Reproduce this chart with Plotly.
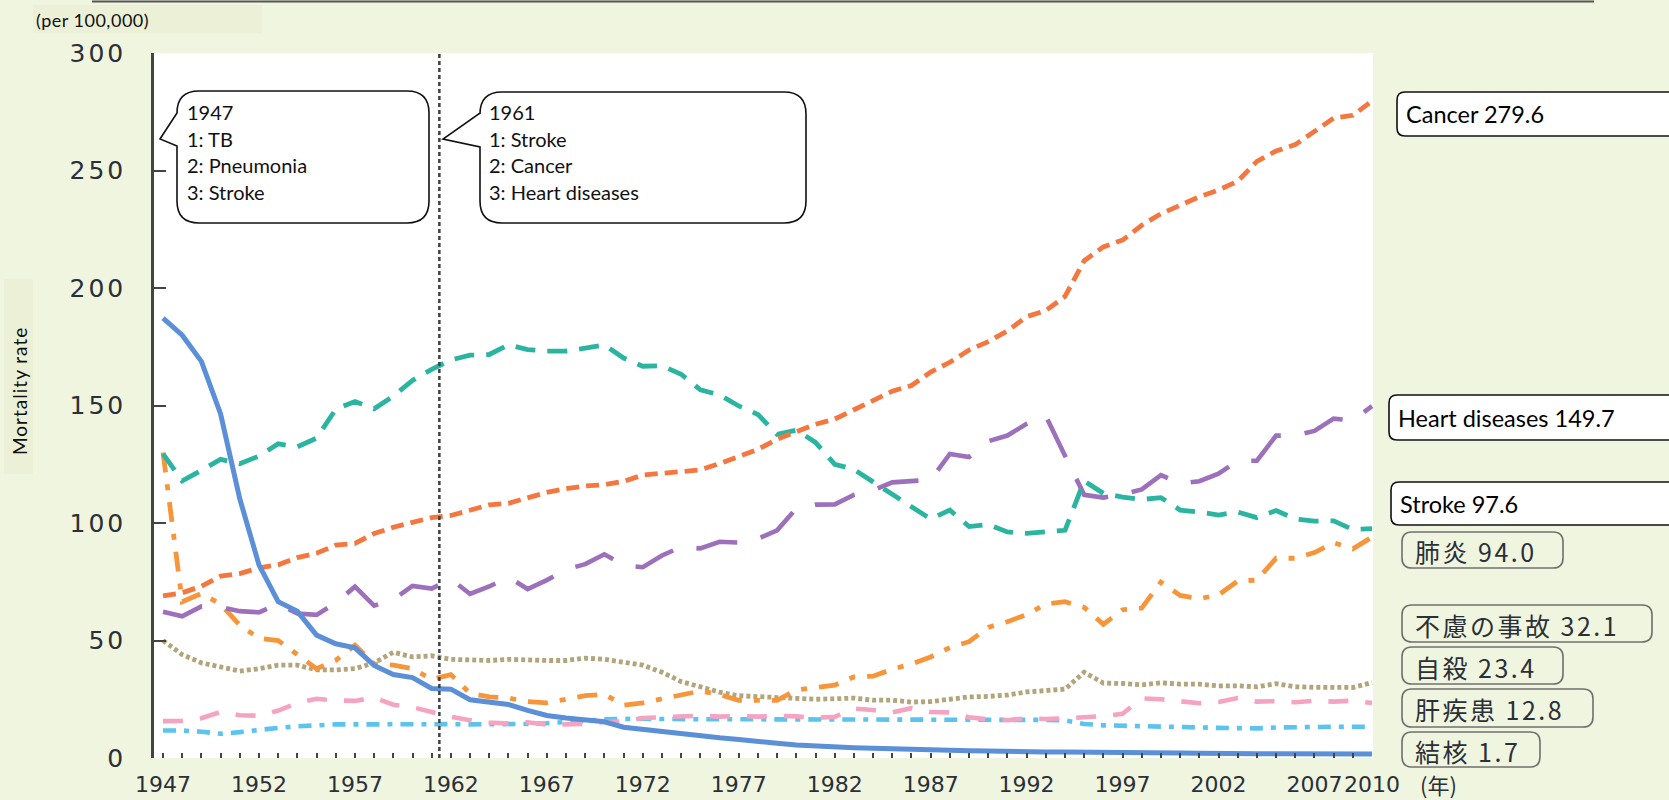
import plotly.graph_objects as go

# ---------------- data ----------------
years = list(range(1947, 2011))

tb = [187.2, 179.9, 168.8, 146.4, 110.3, 82.2, 66.5, 62.4, 52.3, 48.6,
      46.9, 39.4, 35.5, 34.2, 29.6, 29.3, 24.8, 23.6, 22.8, 20.3,
      18.1, 17.0, 16.0, 15.4, 13.1, 12.1, 11.4, 10.5, 9.5, 8.6,
      7.9, 7.3, 6.3, 5.5, 5.0, 4.6, 4.4, 4.2, 3.9, 3.7,
      3.4, 3.2, 3.1, 3.0, 2.7, 2.8, 2.6, 2.6, 2.6, 2.3,
      2.2, 2.2, 2.3, 2.1, 2.0, 1.8, 1.9, 1.8, 1.8, 1.8,
      1.7, 1.8, 1.7, 1.7]

pneumonia = [130.0, 66.5, 70.0, 65.5, 56.5, 51.0, 50.0, 44.0, 38.0, 41.5,
             48.0, 40.0, 39.5, 38.0, 33.5, 35.5, 27.5, 26.0, 25.5, 24.0,
             23.5, 25.0, 26.5, 27.1, 22.5, 23.5, 25.0, 26.5, 28.5, 27.0,
             24.5, 24.5, 24.5, 29.0, 29.8, 31.0, 34.5, 34.8, 37.8, 40.0,
             43.0, 47.0, 49.5, 55.6, 58.0, 61.0, 65.5, 66.5, 64.1, 56.9,
             63.1, 63.8, 74.9, 69.2, 67.8, 69.4, 75.3, 75.7, 85.0, 85.0,
             87.4, 91.6, 89.0, 94.0]

cancer = [69.0, 70.3, 73.1, 77.4, 78.5, 80.9, 82.2, 85.3, 87.1, 90.6,
          91.3, 95.5, 98.2, 100.4, 102.3, 103.2, 105.5, 107.7, 108.4, 110.8,
          113.0, 114.6, 115.8, 116.3, 117.7, 120.4, 121.2, 122.2, 122.6, 125.3,
          128.4, 131.3, 135.7, 139.1, 142.0, 144.2, 148.3, 152.5, 156.1, 158.5,
          164.2, 168.4, 173.6, 177.2, 181.7, 187.8, 190.4, 196.4, 211.6, 217.5,
          220.4, 226.7, 231.6, 235.2, 238.8, 241.7, 245.4, 253.9, 258.3, 261.0,
          266.9, 272.3, 273.5, 279.6]

heart = [62.2, 60.3, 64.5, 64.2, 62.5, 62.0, 65.6, 61.5, 60.9, 66.0,
         72.9, 64.8, 67.5, 73.2, 72.1, 76.2, 69.8, 73.0, 77.0, 71.9,
         75.7, 80.2, 82.5, 86.7, 82.0, 81.2, 86.2, 89.8, 89.2, 92.0,
         91.7, 93.3, 96.9, 106.2, 107.8, 107.9, 111.9, 113.9, 117.3, 117.9,
         118.4, 129.4, 128.1, 134.8, 137.2, 142.2, 145.6, 128.6, 112.0, 110.8,
         112.2, 114.3, 120.4, 116.8, 117.8, 121.0, 126.5, 126.5, 137.2, 137.2,
         139.2, 144.4, 143.7, 149.7]

stroke = [129.4, 117.9, 122.4, 127.1, 125.2, 128.5, 133.7, 132.4, 136.1, 148.4,
          151.7, 148.6, 154.0, 160.7, 165.4, 169.4, 171.4, 171.7, 175.8, 173.8,
          173.1, 173.2, 174.4, 175.8, 170.2, 166.7, 166.9, 163.3, 156.7, 154.5,
          149.8, 146.2, 137.7, 139.5, 134.3, 125.0, 122.8, 117.2, 112.2, 106.9,
          101.7, 105.5, 98.5, 99.4, 96.2, 95.6, 96.0, 96.9, 117.9, 112.6,
          111.0, 110.0, 110.8, 105.5, 104.7, 103.4, 104.7, 102.3, 105.3, 101.7,
          100.8, 100.9, 97.2, 97.6]

accidents = [50.0, 44.0, 40.5, 38.5, 37.0, 38.0, 39.5, 39.5, 37.5, 37.5,
             38.0, 40.5, 45.0, 43.0, 43.5, 42.0, 41.5, 41.5, 42.0, 41.5,
             41.5, 41.5, 42.5, 42.0, 41.0, 39.5, 36.5, 32.5, 30.3, 28.0,
             26.5, 26.0, 25.5, 25.1, 25.0, 25.2, 25.5, 24.6, 24.6, 23.8,
             24.0, 25.0, 26.0, 26.2, 26.8, 28.1, 28.6, 29.3, 36.5, 31.9,
             31.7, 31.1, 32.0, 31.4, 31.4, 30.7, 30.7, 30.3, 31.6, 30.3,
             30.1, 30.3, 30.0, 32.1]

suicide = [15.7, 15.8, 16.9, 19.6, 18.2, 18.0, 20.2, 23.4, 25.2, 24.5,
           24.3, 25.7, 22.7, 21.6, 19.6, 17.5, 16.1, 15.1, 14.7, 15.2,
           14.2, 14.5, 14.5, 15.3, 15.6, 17.0, 17.4, 17.5, 18.0, 17.6,
           17.9, 17.6, 18.0, 17.7, 17.1, 17.5, 21.0, 20.4, 19.4, 21.2,
           19.6, 19.4, 17.3, 16.4, 16.1, 16.9, 16.6, 16.9, 17.2, 17.8,
           18.8, 25.4, 25.0, 24.1, 23.3, 23.8, 25.5, 24.0, 24.2, 23.7,
           24.4, 24.0, 24.4, 23.4]

liver = [11.7, 11.7, 11.2, 10.3, 11.0, 12.0, 12.8, 13.5, 14.0, 14.3,
         14.3, 14.4, 14.5, 14.5, 14.5, 14.4, 14.3, 14.3, 14.4, 14.5,
         14.8, 15.2, 15.8, 16.5, 16.7, 16.7, 16.6, 16.4, 16.5, 16.5,
         16.5, 16.5, 16.5, 16.5, 16.4, 16.4, 16.3, 16.2, 16.2, 16.4,
         16.5, 16.5, 16.4, 16.4, 16.3, 16.2, 16.2, 16.0, 14.5, 13.9,
         13.8, 13.6, 13.4, 13.3, 13.0, 12.8, 12.6, 12.6, 13.0, 13.2,
         13.3, 13.3, 13.3, 13.3]

x_tick_years = [1947, 1952, 1957, 1962, 1967, 1972, 1977, 1982, 1987, 1992, 1997, 2002, 2007, 2010]
y_ticks = [0, 50, 100, 150, 200, 250, 300]

bubble1_lines = ["1947", "1: TB", "2: Pneumonia", "3: Stroke"]
bubble2_lines = ["1961", "1: Stroke", "2: Cancer", "3: Heart diseases"]
marker_year = 1961.4

end_labels_en = [("Cancer 279.6", 92, 136, 1397), ("Heart diseases 149.7", 395, 440, 1389),
                 ("Stroke 97.6", 482, 525, 1391)]
end_labels_ja = [("肺炎 94.0", 532, 568, 1563), ("不慮の事故 32.1", 605, 642, 1652),
                 ("自殺 23.4", 647, 684, 1563), ("肝疾患 12.8", 689, 727, 1593),
                 ("結核 1.7", 732, 767, 1540)]

for s in (tb, pneumonia, cancer, heart, stroke, accidents, suicide, liver):
    assert len(s) == len(years)

# ---------------- layout helpers (page pixels -> paper) ----------------
W, H = 1669, 800
L, R, T, B = 154, 1373, 53, 758
BG = "#F0F5E0"


def px(x):
    return (x - L) / (R - L)


def py(y):
    return (B - y) / (B - T)


def P(x, y):
    return f"{px(x):.5f},{py(y):.5f}"


def rrect(x0, y0, x1, y1, r, pointer=None):
    s = (f"M {P(x0 + r, y0)} L {P(x1 - r, y0)} Q {P(x1, y0)} {P(x1, y0 + r)} "
         f"L {P(x1, y1 - r)} Q {P(x1, y1)} {P(x1 - r, y1)} "
         f"L {P(x0 + r, y1)} Q {P(x0, y1)} {P(x0, y1 - r)} ")
    if pointer:
        top, tipx, tipy, bot = pointer
        s += f"L {P(x0, bot)} L {P(tipx, tipy)} L {P(x0, top)} "
    s += f"L {P(x0, y0 + r)} Q {P(x0, y0)} {P(x0 + r, y0)} Z"
    return s


fig = go.Figure()

series = [
    (liver, "#5CC3EE", "13px,8px,5px,8px", 4.6),
    (suicide, "#F4A3C1", "20px,17px", 4.6),
    (accidents, "#B2A57C", "4px,3px", 4.8),
    (pneumonia, "#F7953B", "20px,12px,6px,12px", 4.8),
    (heart, "#9D70BB", "42px,24px", 4.6),
    (stroke, "#2BB5A1", "20px,12px", 4.8),
    (cancer, "#F3773F", "13px,7px", 4.8),
    (tb, "#5B8FD8", "solid", 5),
]
for vals, col, dash, w in series:
    fig.add_trace(go.Scatter(x=years, y=vals, mode="lines",
                             line=dict(color=col, width=w, dash=dash),
                             hoverinfo="skip", showlegend=False))

shapes = []
# top rule
shapes.append(dict(type="line", xref="paper", yref="paper", x0=px(92), x1=px(1594), y0=py(1.5), y1=py(1.5),
                   line=dict(color="#555555", width=2)))
# label background panels
shapes.append(dict(type="rect", xref="paper", yref="paper", x0=px(33), x1=px(262), y0=py(33), y1=py(5),
                   fillcolor="#EBF0D7", line=dict(width=0), layer="below"))
shapes.append(dict(type="rect", xref="paper", yref="paper", x0=px(4), x1=px(33), y0=py(474), y1=py(279),
                   fillcolor="#EBF0D7", line=dict(width=0), layer="below"))
# vertical dashed marker
shapes.append(dict(type="line", xref="x", yref="paper", x0=marker_year, x1=marker_year, y0=0, y1=1,
                   line=dict(color="#404040", width=2.5, dash="4px,3px")))
# callout bubbles
shapes.append(dict(type="path", xref="paper", yref="paper",
                   path=rrect(177, 91, 429, 223, 22, pointer=(113, 160, 139, 146)),
                   fillcolor="white", line=dict(color="#111111", width=1.6)))
shapes.append(dict(type="path", xref="paper", yref="paper",
                   path=rrect(480, 92, 806, 223, 22, pointer=(113, 443, 139, 147)),
                   fillcolor="white", line=dict(color="#111111", width=1.6)))
# end labels (english, white boxes)
for txt, y0, y1, x0 in end_labels_en:
    shapes.append(dict(type="path", xref="paper", yref="paper",
                       path=rrect(x0, y0, 1690, y1, 8),
                       fillcolor="white", line=dict(color="#111111", width=1.6)))
# end labels (japanese, grey rounded)
for txt, y0, y1, x1 in end_labels_ja:
    shapes.append(dict(type="path", xref="paper", yref="paper",
                       path=rrect(1402, y0, x1, y1, 10),
                       fillcolor="rgba(0,0,0,0)", line=dict(color="#707070", width=1.6)))

annotations = []
annotations.append(dict(xref="paper", yref="paper", x=px(34), y=py(20), xanchor="left", yanchor="middle",
                        text='<span style="letter-spacing:0.5px">(per 100,000)</span>', showarrow=False,
                        font=dict(family="Lato", size=18, color="#111111")))
annotations.append(dict(xref="paper", yref="paper", x=px(19), y=py(391), xanchor="center", yanchor="middle",
                        text='<span style="letter-spacing:1px">Mortality rate</span>', showarrow=False,
                        textangle=-90, font=dict(family="Lato", size=19, color="#111111")))
for lines, x0 in ((bubble1_lines, 185), (bubble2_lines, 487)):
    for i, t in enumerate(lines):
        annotations.append(dict(xref="paper", yref="paper", x=px(x0), y=py(112 + 26.5 * i),
                                xanchor="left", yanchor="middle", text=t, showarrow=False,
                                font=dict(family="Lato", size=20, color="#111111")))
for txt, y0, y1, x0 in end_labels_en:
    annotations.append(dict(xref="paper", yref="paper", x=px(x0 + 7), y=py((y0 + y1) / 2),
                            xanchor="left", yanchor="middle", text=txt, showarrow=False,
                            font=dict(family="Lato", size=23.5, color="#000000")))
for txt, y0, y1, x1 in end_labels_ja:
    annotations.append(dict(xref="paper", yref="paper", x=px(1413), y=py((y0 + y1) / 2 + 1),
                            xanchor="left", yanchor="middle",
                            text=f'<span style="letter-spacing:2.5px">{txt}</span>', showarrow=False,
                            font=dict(family="Noto Sans CJK JP", size=25, color="#2A2F38")))
annotations.append(dict(xref="paper", yref="paper", x=px(1438), y=py(784), xanchor="center", yanchor="middle",
                        text="(年)", showarrow=False,
                        font=dict(family="Noto Sans CJK JP", size=22, color="#2A2F38")))

fig.update_layout(
    width=W, height=H,
    margin=dict(l=L, r=W - R, t=T, b=H - B, pad=0, autoexpand=False),
    paper_bgcolor=BG, plot_bgcolor="white",
    showlegend=False,
    shapes=shapes, annotations=annotations,
    xaxis=dict(range=[1946.53, 2010.05], tickmode="array", tickvals=x_tick_years,
               ticktext=[str(y) for y in x_tick_years],
               tickangle=0, automargin=False,
               ticks="inside", ticklen=5, tickwidth=1.5, tickcolor="#444444",
               minor=dict(tickmode="linear", tick0=1947, dtick=1, ticks="inside", ticklen=5,
                          tickwidth=1.5, tickcolor="#444444", showgrid=False),
               showline=False, showgrid=False, zeroline=False,
               tickfont=dict(family="DejaVu Sans", size=22, color="#2A2F38"),
               ticklabelstandoff=11, fixedrange=True),
    yaxis=dict(range=[0, 300], tickmode="array", tickvals=y_ticks,
               ticktext=[f'<span style="letter-spacing:3px">{v}</span>' for v in y_ticks],
               ticks="inside", ticklen=12, tickwidth=2, tickcolor="#444444",
               showline=True, linecolor="#444444", linewidth=2.5, automargin=False,
               showgrid=False, zeroline=False,
               tickfont=dict(family="DejaVu Sans", size=25, color="#2A2F38"),
               ticklabelstandoff=20, fixedrange=True),
)

fig.write_html("out.html", config={"displayModeBar": False},
               post_script="document.body.style.margin='0';document.body.style.overflow='hidden';")
